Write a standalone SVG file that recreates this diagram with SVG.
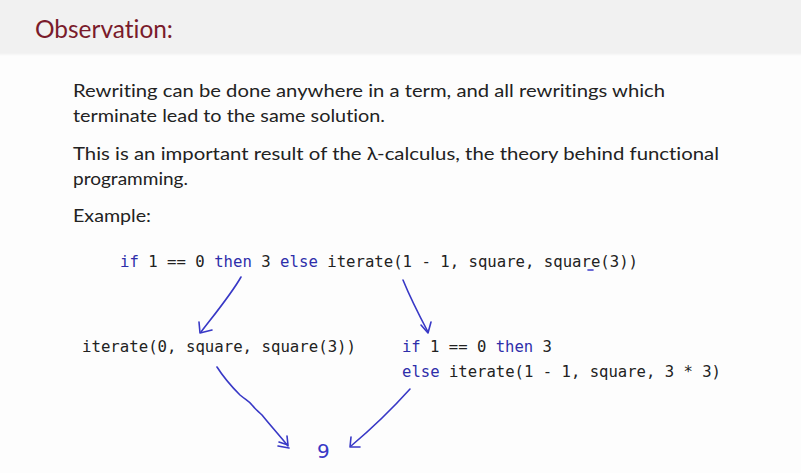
<svg xmlns="http://www.w3.org/2000/svg" width="801" height="473" viewBox="0 0 801 473">
  <defs>
    <linearGradient id="bandEdge" x1="0" y1="0" x2="0" y2="1">
      <stop offset="0" stop-color="#f1f1f1"/>
      <stop offset="1" stop-color="#fdfdfd"/>
    </linearGradient>
  </defs>
  <style>
    text { font-variant-ligatures: none; }
    .title { font-family: "Lato", "Open Sans", "Liberation Sans", sans-serif; font-size: 25px; fill: #7a1b2b; }
    .body { font-family: "Lato", "Liberation Sans", sans-serif; font-size: 18px; fill: #222222; }
    .code { font-family: "DejaVu Sans Mono", "Liberation Mono", monospace; font-size: 15.3px; fill: #222222; }
    .kw { fill: #2e2eaa; }
    .ink { fill: none; stroke: #3838c6; stroke-width: 1.6; stroke-linecap: round; stroke-linejoin: round; }
    .hand { font-family: "DejaVu Sans", sans-serif; font-size: 20px; fill: #3838c6; }
  </style>

  <!-- page and header band -->
  <rect x="0" y="0" width="801" height="473" fill="#fdfdfd"/>
  <rect x="0" y="0" width="801" height="53" fill="#f1f1f1"/>
  <rect x="0" y="53" width="801" height="3" fill="url(#bandEdge)"/>
  <text class="title" x="35" y="38" textLength="138" lengthAdjust="spacingAndGlyphs">Observation:</text>

  <!-- prose -->
  <text class="body" x="73" y="97" textLength="592" lengthAdjust="spacingAndGlyphs">Rewriting can be done anywhere in a term, and all rewritings which</text>
  <text class="body" x="73" y="122" textLength="312" lengthAdjust="spacingAndGlyphs">terminate lead to the same solution.</text>
  <text class="body" x="73" y="160" textLength="646" lengthAdjust="spacingAndGlyphs">This is an important result of the λ-calculus, the theory behind functional</text>
  <text class="body" x="73" y="185" textLength="115" lengthAdjust="spacingAndGlyphs">programming.</text>
  <text class="body" x="73" y="222" textLength="78" lengthAdjust="spacingAndGlyphs">Example:</text>

  <!-- terms -->
  <g id="term-start">
    <text class="code" x="120" y="267" textLength="518" lengthAdjust="spacingAndGlyphs"><tspan class="kw">if</tspan> 1 == 0 <tspan class="kw">then</tspan> 3 <tspan class="kw">else</tspan> iterate(1 - 1, square, square(3))</text>
    <line class="ink" x1="588" y1="270" x2="593" y2="270" stroke-width="1.4"/>
  </g>
  <g id="term-left">
    <text class="code" x="82" y="352" textLength="274" lengthAdjust="spacingAndGlyphs">iterate(0, square, square(3))</text>
  </g>
  <g id="term-right">
    <text class="code" x="402" y="352" textLength="150" lengthAdjust="spacingAndGlyphs"><tspan class="kw">if</tspan> 1 == 0 <tspan class="kw">then</tspan> 3</text>
    <text class="code" x="402" y="377" textLength="319" lengthAdjust="spacingAndGlyphs"><tspan class="kw">else</tspan> iterate(1 - 1, square, 3 * 3)</text>
  </g>
  <g id="result">
    <text class="hand" x="317" y="458">9</text>
  </g>

  <!-- hand-drawn rewrite arrows -->
  <g id="connectors">
    <path class="ink" d="M241,277 C232,293 218,310 201,332"/>
    <path class="ink" d="M199,322 L200,333 L212,330"/>

    <path class="ink" d="M403,280 C410,297 419,315 428,332"/>
    <path class="ink" d="M421,325 L428,333 L431,322"/>

    <path class="ink" d="M217,367 C224,378 232,387 240,395 C246,400 249,401 252,405 C256,410 258,411 262,415 C270,425 280,436 288,446"/>
    <path class="ink" d="M279,442 L288,445 L287,436"/>
    <path class="ink" d="M278,446 L289,448"/>

    <path class="ink" d="M410,389 C392,409 370,430 351,446"/>
    <path class="ink" d="M351,437 L350,447 L360,447"/>
  </g>
</svg>
